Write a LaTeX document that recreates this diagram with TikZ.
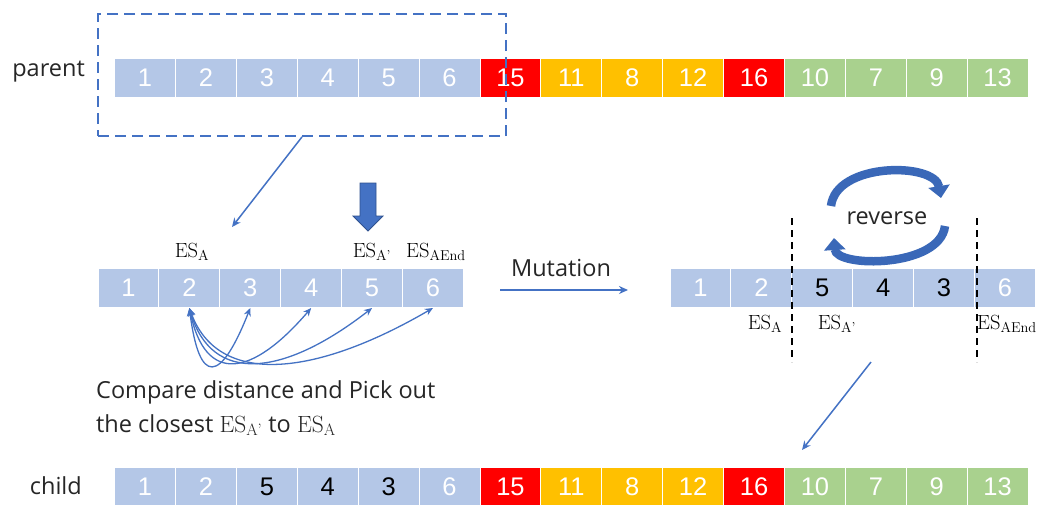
\documentclass[tikz,border=0pt]{standalone}
\usepackage{amsmath}
\usepackage{fontspec}
\newfontfamily\cellfont{Liberation Sans}
\newfontfamily\labfont{Open Sans}
\usetikzlibrary{arrows.meta}
\definecolor{cblue}{HTML}{B4C7E7}
\definecolor{cred}{HTML}{FF0000}
\definecolor{corange}{HTML}{FFC000}
\definecolor{cgreen}{HTML}{A9D18E}
\definecolor{lineblue}{HTML}{4472C4}
\definecolor{darkblue}{HTML}{2F528F}
\definecolor{arcblue}{HTML}{3A68B8}
\newcommand{\ESA}{\mathrm{ES}_{\mathrm{A}}}
\newcommand{\ESAp}{\mathrm{ES}_{\mathrm{A}\text{\rmfamily '}}}
\newcommand{\ESAe}{\mathrm{ES}_{\mathrm{AEnd}}}
\begin{document}
\begin{tikzpicture}[x=1pt,y=-1pt,
  cell/.style={draw=white,line width=1pt,minimum width=60.9pt,minimum height=39pt,inner sep=0pt,
    font=\cellfont\fontsize{25.5}{25.5}\selectfont,text=white},
  lab/.style={font=\labfont\fontsize{23.5}{27}\selectfont,text=black!85,inner sep=0pt},
  eslab/.style={font=\fontsize{20.5}{20.5}\selectfont,inner sep=0pt},
  conn/.style={draw=lineblue,line width=1.5pt,-{Stealth[length=9pt,width=8pt]}},
  sep/.style={draw=black,line width=2pt,dash pattern=on 7pt off 5pt},
  circ/.style={draw=arcblue,line width=8.5pt,-{Triangle[width=21pt,length=12pt]}}]
\clip (0,0) rectangle (1045,504);
\fill[white] (0,0) rectangle (1045,504);

% parent row
\foreach \v/\c/\t [count=\i] in {1/cblue/white,2/cblue/white,3/cblue/white,4/cblue/white,5/cblue/white,6/cblue/white,15/cred/white,11/corange/white,8/corange/white,12/corange/white,16/cred/white,10/cgreen/white,7/cgreen/white,9/cgreen/white,13/cgreen/white}
  \node[cell,fill=\c,text=\t] (p\i) at ({145.05+60.9*(\i-1)},77.5) {\v};
\node[lab,anchor=east] (parent) at (85,72) {parent};

% child row
\foreach \v/\c/\t [count=\i] in {1/cblue/white,2/cblue/white,5/cblue/black,4/cblue/black,3/cblue/black,6/cblue/white,15/cred/white,11/corange/white,8/corange/white,12/corange/white,16/cred/white,10/cgreen/white,7/cgreen/white,9/cgreen/white,13/cgreen/white}
  \node[cell,fill=\c,text=\t] (c\i) at ({145.05+60.9*(\i-1)},486.5) {\v};
\node[lab,anchor=east] (child) at (82,486) {child};

% selection box
\node[draw=lineblue,line width=1.8pt,dash pattern=on 11pt off 6pt,minimum width=408pt,minimum height=122pt,inner sep=0pt] (sel) at (302,75) {};

% middle row
\foreach \v/\c/\t [count=\i] in {1/cblue/white,2/cblue/white,3/cblue/white,4/cblue/white,5/cblue/white,6/cblue/white}
  \node[cell,fill=\c,text=\t] (m\i) at ({128.45+60.9*(\i-1)},288) {\v};
\node[eslab] (la) at (192,252) {$\ESA$};
\node[eslab] (lap) at (372,252) {$\ESAp$};
\node[eslab] (lae) at (436,252) {$\ESAe$};

\coordinate (selend) at (232,227);
\draw[conn] (sel.south) -- (selend);

% thick arrow
\filldraw[fill=lineblue,draw=darkblue,line width=0.8pt] (360,183) -- (376,183) -- (376,216) -- (383,216) -- (368,231) -- (353,216) -- (360,216) -- cycle;

% curved comparisons
\begin{scope}[draw=lineblue,line width=1.3pt,{Stealth[length=8pt,width=7pt]}-{Stealth[length=8pt,width=7pt]}]
\draw (m2.south) .. controls +(10,78) and +(-30,76) .. (m3.south);
\draw (m2.south) .. controls +(16,76) and +(-60,70) .. (m4.south);
\draw (m2.south) .. controls +(22,76) and +(-90,70) .. (m5.south);
\draw (m2.south) .. controls +(28,78) and +(-120,70) .. (m6.south);
\end{scope}

\node[lab,anchor=west] (cmp1) at (96,392) {Compare distance and Pick out};
\node[lab,anchor=west] (cmp2) at (96,425) {the closest $\ESAp$ to $\ESA$};

% mutation
\node[lab] (mut) at (561,268) {Mutation};
\coordinate (mutA) at (500,290);
\coordinate (mutB) at (628,290);
\draw[conn] (mutA) -- (mutB);

% right row
\foreach \v/\c/\t [count=\i] in {1/cblue/white,2/cblue/white,5/cblue/black,4/cblue/black,3/cblue/black,6/cblue/white}
  \node[cell,fill=\c,text=\t] (r\i) at ({700.45+60.9*(\i-1)},287.5) {\v};
\draw[sep] (792,218) -- (792,362);
\draw[sep] (977,218) -- (977,362);
\node[eslab] (ra) at (765,324) {$\ESA$};
\node[eslab] (rap) at (837,324) {$\ESAp$};
\node[eslab,anchor=west] (rae) at (977,324) {$\ESAe$};

% reverse
\node[lab] (rev) at (887,218) {reverse};
\draw[circ] (831,206) .. controls (836,162) and (935,162) .. (941,198);
\draw[circ] (945,226) .. controls (940,268) and (836,268) .. (834,238);

% to child
\coordinate (rA) at (871,362);
\coordinate (rB) at (802,450);
\draw[conn] (rA) -- (rB);
\end{tikzpicture}
\end{document}
